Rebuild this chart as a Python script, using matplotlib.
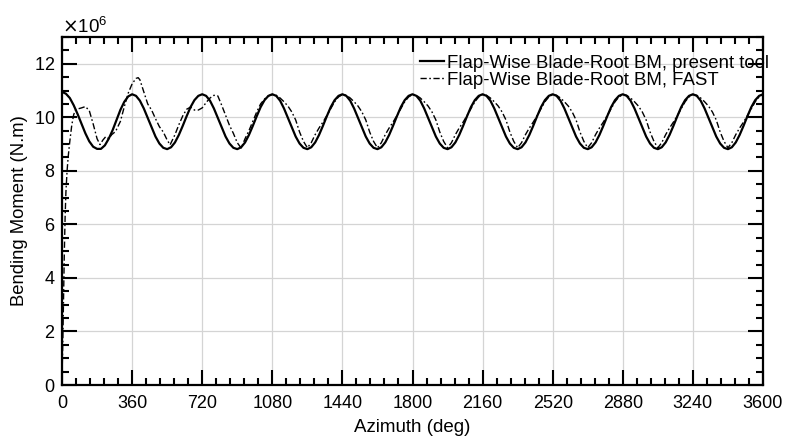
import numpy as np
import matplotlib.pyplot as plt
from matplotlib.ticker import MultipleLocator, ScalarFormatter

plt.rcParams["font.family"] = ["Liberation Sans", "DejaVu Sans"]

# present tool, sampled every 20 deg (values in 1e6 N.m)
tool_az = np.arange(0, 3601, 20)
tool_bm = (
    [10.95, 10.88, 10.72, 10.45, 10.12, 9.76, 9.40, 9.10, 8.90, 8.82, 8.82, 8.95, 9.20, 9.52, 9.90, 10.28, 10.58, 10.78]
    + [10.86, 10.80, 10.62, 10.33, 9.98, 9.62, 9.28, 9.02, 8.86, 8.81, 8.88, 9.06, 9.34, 9.68, 10.04, 10.38, 10.64, 10.80]
    + [10.86, 10.80, 10.62, 10.33, 9.98, 9.62, 9.28, 9.02, 8.86, 8.81, 8.88, 9.06, 9.34, 9.68, 10.04, 10.38, 10.64, 10.80]
    + [10.86, 10.80, 10.62, 10.33, 9.98, 9.62, 9.28, 9.02, 8.86, 8.81, 8.88, 9.06, 9.34, 9.68, 10.04, 10.38, 10.64, 10.80]
    + [10.86, 10.80, 10.62, 10.33, 9.98, 9.62, 9.28, 9.02, 8.86, 8.81, 8.88, 9.06, 9.34, 9.68, 10.04, 10.38, 10.64, 10.80]
    + [10.86, 10.80, 10.62, 10.33, 9.98, 9.62, 9.28, 9.02, 8.86, 8.81, 8.88, 9.06, 9.34, 9.68, 10.04, 10.38, 10.64, 10.80]
    + [10.86, 10.80, 10.62, 10.33, 9.98, 9.62, 9.28, 9.02, 8.86, 8.81, 8.88, 9.06, 9.34, 9.68, 10.04, 10.38, 10.64, 10.80]
    + [10.86, 10.80, 10.62, 10.33, 9.98, 9.62, 9.28, 9.02, 8.86, 8.81, 8.88, 9.06, 9.34, 9.68, 10.04, 10.38, 10.64, 10.80]
    + [10.86, 10.80, 10.62, 10.33, 9.98, 9.62, 9.28, 9.02, 8.86, 8.81, 8.88, 9.06, 9.34, 9.68, 10.04, 10.38, 10.64, 10.80]
    + [10.86, 10.80, 10.62, 10.33, 9.98, 9.62, 9.28, 9.02, 8.86, 8.81, 8.88, 9.06, 9.34, 9.68, 10.04, 10.38, 10.64, 10.80]
    + [10.86]
)

# FAST: start-up transient read at uneven steps, then every 20 deg from 1080
fast_az_start = [0, 4, 8, 12, 16, 20, 26, 32, 40, 50, 60, 70, 85, 100, 120, 140, 160, 180, 195, 210,
                 225, 240, 255, 275, 300, 320, 340, 360, 380, 391, 400, 420, 440, 460, 480, 500, 520, 540,
                 555, 580, 600, 620, 640, 660, 680, 700, 720, 740, 760, 780, 800, 820, 840, 860, 880, 900,
                 920, 940, 960, 980, 1000, 1020, 1040, 1060]
fast_bm_start = [0.3, 1.6, 3.4, 5.0, 6.3, 7.2, 8.0, 8.55, 9.1, 9.7, 10.1, 10.28, 10.32, 10.35, 10.4, 10.25,
                 9.75, 9.2, 8.98, 9.15, 9.28, 9.2, 9.35, 9.47, 9.85, 10.4, 10.9, 11.25, 11.45, 11.48, 11.4,
                 10.95, 10.5, 10.27, 9.95, 9.65, 9.45, 9.15, 8.97, 9.35, 9.72, 10.05, 10.3, 10.38, 10.27,
                 10.27, 10.35, 10.55, 10.72, 10.82, 10.8, 10.45, 10.08, 9.7, 9.4, 9.05, 8.85, 9.2, 9.5,
                 9.85, 10.2, 10.5, 10.68, 10.8]
fast_az_rest = np.arange(1080, 3601, 20)
fast_bm_rest = (
    [10.85, 10.82, 10.72, 10.58, 10.42, 10.20, 9.90, 9.45, 9.10, 8.86, 9.05, 9.35, 9.60, 9.82, 10.06, 10.32, 10.58, 10.76]
    + [10.85, 10.82, 10.72, 10.58, 10.42, 10.20, 9.90, 9.45, 9.10, 8.86, 9.05, 9.35, 9.60, 9.82, 10.06, 10.32, 10.58, 10.76]
    + [10.85, 10.82, 10.72, 10.58, 10.42, 10.20, 9.90, 9.45, 9.10, 8.86, 9.05, 9.35, 9.60, 9.82, 10.06, 10.32, 10.58, 10.76]
    + [10.85, 10.82, 10.72, 10.58, 10.42, 10.20, 9.90, 9.45, 9.10, 8.86, 9.05, 9.35, 9.60, 9.82, 10.06, 10.32, 10.58, 10.76]
    + [10.85, 10.82, 10.72, 10.58, 10.42, 10.20, 9.90, 9.45, 9.10, 8.86, 9.05, 9.35, 9.60, 9.82, 10.06, 10.32, 10.58, 10.76]
    + [10.85, 10.82, 10.72, 10.58, 10.42, 10.20, 9.90, 9.45, 9.10, 8.86, 9.05, 9.35, 9.60, 9.82, 10.06, 10.32, 10.58, 10.76]
    + [10.85, 10.82, 10.72, 10.58, 10.42, 10.20, 9.90, 9.45, 9.10, 8.86, 9.05, 9.35, 9.60, 9.82, 10.06, 10.32, 10.58, 10.76]
    + [10.85]
)
fast_az = np.concatenate([fast_az_start, fast_az_rest])
fast_bm = np.concatenate([fast_bm_start, fast_bm_rest])

x_ticks = [0, 360, 720, 1080, 1440, 1800, 2160, 2520, 2880, 3240, 3600]

fig = plt.figure(figsize=(7.87, 4.4), dpi=100)
ax = fig.add_axes([0.0788, 0.125, 0.8907, 0.791])

ax.plot(tool_az, np.array(tool_bm) * 1e6, color="black", linewidth=1.6,
        label="Flap-Wise Blade-Root BM, present tool")
ax.plot(fast_az, fast_bm * 1e6, color="black", linewidth=1.0, dashes=(4.5, 1.8, 1.2, 1.8),
        label="Flap-Wise Blade-Root BM, FAST")

ax.set_xlim(0, 3600)
ax.set_ylim(0, 13e6)
ax.set_xticks(x_ticks)
ax.xaxis.set_minor_locator(MultipleLocator(72))
ax.yaxis.set_major_locator(MultipleLocator(2e6))
ax.yaxis.set_minor_locator(MultipleLocator(0.5e6))
fmt = ScalarFormatter(useMathText=True)
fmt.set_powerlimits((6, 6))
ax.yaxis.set_major_formatter(fmt)
ax.yaxis.get_offset_text().set_fontsize(13.5)

ax.grid(True, which="major", color="#d4d4d4", linewidth=0.9)
ax.tick_params(which="both", direction="in", top=True, right=True, labelsize=13, width=1.5)
ax.tick_params(which="major", length=10.5)
ax.tick_params(which="minor", length=5)
ax.tick_params(axis="x", which="major", pad=7)
ax.tick_params(axis="y", which="major", pad=5)
for s in ax.spines.values():
    s.set_linewidth(1.6)

ax.set_xlabel("Azimuth (deg)", fontsize=13.5, labelpad=5)
ax.set_ylabel("Bending Moment (N.m)", fontsize=13.3, labelpad=4)

ax.legend(loc="upper left", bbox_to_anchor=(0.5335, 0.876), bbox_transform=fig.transFigure,
          frameon=False, fontsize=13.4, handlelength=1.3, handletextpad=0.15,
          labelspacing=0.02, borderpad=0.0, borderaxespad=0.0)

fig.savefig("out.png", dpi=100)
